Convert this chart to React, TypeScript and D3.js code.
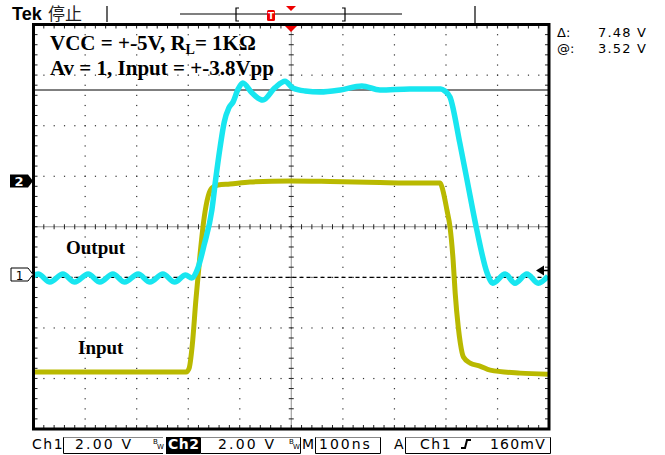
import React from 'react';
import * as d3 from 'd3';

// Ch1 (Output, cyan) : time in ns, volts
const ch1Time = [-500, -491, -468, -443, -420, -394, -371, -346, -323, -297, -274, -249, -226, -205, -193, -181, -169, -154, -146, -138, -130, -121, -113, -103, -94, -76, -55, -32, -12, 3, 27, 56, 95, 137, 172, 230, 290, 298, 308, 327, 341, 360, 380, 391, 415, 434, 457, 479, 498];
const ch1Volts = [-3.66, -3.58, -3.9, -3.58, -3.9, -3.58, -3.9, -3.58, -3.9, -3.58, -3.9, -3.58, -3.9, -3.62, -3.74, -3.34, -2.43, -1.05, 0.26, 1.44, 2.43, 2.99, 3.22, 3.74, 3.98, 3.58, 3.3, 3.78, 4.05, 3.78, 3.66, 3.62, 3.7, 3.86, 3.7, 3.74, 3.74, 3.66, 3.42, 1.6, 0.14, -1.84, -3.54, -3.94, -3.58, -3.94, -3.58, -3.94, -3.66];

// Ch2 (Input, yellow)
const ch2Time = [-500, -371, -204, -198, -192, -185, -177, -169, -161, -154, -142, -119, -80, -2, 75, 172, 250, 289, 294, 302, 308, 314, 318, 324, 328, 334, 347, 366, 386, 444, 498];
const ch2Volts = [-3.75, -3.75, -3.75, -3.59, -2.68, -0.9, 0.88, 2.35, 3.22, 3.53, 3.65, 3.69, 3.77, 3.81, 3.79, 3.75, 3.73, 3.73, 3.45, 2.66, 1.99, 0.68, -0.62, -1.97, -2.6, -3.15, -3.39, -3.51, -3.67, -3.79, -3.83];

const titleLines = ['VCC = +-5V, R', 'Av = 1, Input = +-3.8Vpp'];
const traceLabels = ['Output', 'Input'];
const cursorLabels = ['Δ:', '@:'];
const cursorValues = ['7.48 V', '3.52 V'];
const scaleLabels = ['2.00 V', '2.00 V', '100ns', '160mV'];

const X0 = 33.5, X1 = 549, Y0 = 24.5, Y1 = 429;
const CH1_OFFSET = 0.855; // divisions
const CH2_OFFSET = -1;
const VOLTS_PER_DIV = 2;

export default function App() {
  const x = d3.scaleLinear().domain([-500, 500]).range([X0, X1]);
  const yDiv = d3.scaleLinear().domain([-4, 4]).range([Y1, Y0]);
  const dx = (X1 - X0) / 10;
  const dy = (Y1 - Y0) / 8;

  const line1 = d3.line<number>()
    .x((_, i) => x(ch1Time[i]))
    .y((v) => yDiv(v / VOLTS_PER_DIV + CH1_OFFSET))
    .curve(d3.curveMonotoneX);
  const line2 = d3.line<number>()
    .x((_, i) => x(ch2Time[i]))
    .y((v) => yDiv(v / VOLTS_PER_DIV + CH2_OFFSET))
    .curve(d3.curveMonotoneX);

  const grid: React.ReactNode[] = [];
  for (let k = 1; k < 10; k++) {
    const gx = X0 + k * dx;
    if (k === 5) {
      grid.push(<line key={'cv'} x1={gx} x2={gx} y1={Y0} y2={Y1} stroke="#222" strokeWidth={1} strokeDasharray="1,1" />);
      for (let j = 1; j < 40; j++) {
        const gy = Y0 + j * dy / 5;
        grid.push(<line key={'cvt' + j} x1={gx - 2.5} x2={gx + 2.5} y1={gy} y2={gy} stroke="#222" strokeWidth={1} />);
      }
    } else {
      for (let j = 1; j < 40; j++) {
        const gy = Y0 + j * dy / 5;
        grid.push(<rect key={'v' + k + '_' + j} x={gx - 0.5} y={gy - 0.5} width={1.2} height={1.2} fill="#333" />);
      }
    }
  }
  for (let k = 1; k < 8; k++) {
    const gy = Y0 + k * dy;
    if (k === 4) {
      grid.push(<line key={'ch'} x1={X0} x2={X1} y1={gy} y2={gy} stroke="#222" strokeWidth={1} strokeDasharray="1,1" />);
      for (let j = 1; j < 50; j++) {
        const gx = X0 + j * dx / 5;
        grid.push(<line key={'cht' + j} x1={gx} x2={gx} y1={gy - 2.5} y2={gy + 2.5} stroke="#222" strokeWidth={1} />);
      }
    } else {
      for (let j = 1; j < 50; j++) {
        const gx = X0 + j * dx / 5;
        grid.push(<rect key={'h' + k + '_' + j} x={gx - 0.5} y={gy - 0.5} width={1.2} height={1.2} fill="#333" />);
      }
    }
  }
  for (let j = 1; j < 50; j++) {
    const gx = X0 + j * dx / 5;
    grid.push(<line key={'bt' + j} x1={gx} x2={gx} y1={Y0} y2={Y0 + 4} stroke="#222" strokeWidth={1} />);
    grid.push(<line key={'bb' + j} x1={gx} x2={gx} y1={Y1 - 4} y2={Y1} stroke="#222" strokeWidth={1} />);
  }
  for (let j = 1; j < 40; j++) {
    const gy = Y0 + j * dy / 5;
    grid.push(<line key={'bl' + j} x1={X0} x2={X0 + 4} y1={gy} y2={gy} stroke="#222" strokeWidth={1} />);
    grid.push(<line key={'br' + j} x1={X1 - 4} x2={X1} y1={gy} y2={gy} stroke="#222" strokeWidth={1} />);
  }

  const ch1Ground = yDiv(-1);
  const sans = "'DejaVu Sans', sans-serif";
  const serif = "'Liberation Serif', 'Times New Roman', serif";
  const barY = 449;

  return (
    <div style={{ position: 'fixed', left: 0, top: 0, width: 665, height: 455, background: '#fff' }}>
      <svg width={665} height={455} style={{ display: 'block' }}>
        <rect x={0} y={0} width={665} height={455} fill="#fff" />
        {/* header */}
        <text x={12} y={20} fontFamily="'Liberation Sans', Arial, sans-serif" fontWeight="bold" fontSize={18} fill="#000">Tek</text>
        <text x={48} y={20} fontFamily="'Noto Sans CJK SC', sans-serif" fontSize={17} fill="#222">停止</text>
        <line x1={107} x2={107} y1={6} y2={22} stroke="#000" strokeWidth={1.2} />
        <line x1={180} x2={402} y1={14} y2={14} stroke="#000" strokeWidth={1.2} />
        <path d="M239,8 L236,8 L236,21 L239,21" fill="none" stroke="#000" strokeWidth={1.2} />
        <path d="M342,8 L345,8 L345,21 L342,21" fill="none" stroke="#000" strokeWidth={1.2} />
        <rect x={267} y={10} width={8} height={11} rx={1.5} fill="#e00" />
        <text x={271} y={19} textAnchor="middle" fontFamily={sans} fontWeight="bold" fontSize={9} fill="#fff">T</text>
        <path d="M286,6 L296,6 L291,11 Z" fill="#e00" />
        <line x1={475} x2={475} y1={6} y2={24} stroke="#000" strokeWidth={1.2} />

        {/* grid */}
        {grid}
        <line x1={X0} x2={X1} y1={90} y2={90} stroke="#000" strokeWidth={1} />
        <line x1={X0} x2={X1} y1={ch1Ground} y2={ch1Ground} stroke="#000" strokeWidth={1.2} strokeDasharray="4,3" />

        {/* traces */}
        <path d={line2(ch2Volts) || ''} fill="none" stroke="#B9B900" strokeWidth={5} strokeLinejoin="round" />
        <path d={line1(ch1Volts) || ''} fill="none" stroke="#18E6F0" strokeWidth={5.5} strokeLinejoin="round" />

        {/* border */}
        <rect x={X0} y={Y0} width={X1 - X0} height={Y1 - Y0} fill="none" stroke="#000" strokeWidth={3} />
        <path d="M285,26 L297,26 L291,32 Z" fill="#e00" />

        {/* annotations */}
        <text x={50} y={50} fontFamily={serif} fontWeight="bold" fontSize={21} fill="#000">
          {titleLines[0]}<tspan fontSize={14} dy={4}>L</tspan><tspan dy={-4}>= 1KΩ</tspan>
        </text>
        <text x={50} y={75} fontFamily={serif} fontWeight="bold" fontSize={21} fill="#000">{titleLines[1]}</text>
        <text x={66} y={254} fontFamily={serif} fontWeight="bold" fontSize={19} fill="#000">{traceLabels[0]}</text>
        <text x={78} y={354} fontFamily={serif} fontWeight="bold" fontSize={19} fill="#000">{traceLabels[1]}</text>

        {/* channel markers */}
        <path d={`M10,174.5 L28,174.5 L33,181 L28,187.5 L10,187.5 Z`} fill="#000" />
        <text x={19} y={186} textAnchor="middle" fontFamily={sans} fontWeight="bold" fontSize={13} fill="#fff">2</text>
        <path d={`M11,268 L28,268 L33,274.5 L28,281 L11,281 Z`} fill="#fff" stroke="#000" strokeWidth={1} />
        <text x={19.5} y={279.5} textAnchor="middle" fontFamily={sans} fontSize={12} fill="#000">1</text>
        <path d="M536,270.5 L544,265.5 L544,275.5 Z" fill="#000" />
        <line x1={543} x2={549} y1={270.5} y2={270.5} stroke="#000" strokeWidth={1.5} />

        {/* cursor readout */}
        <text x={557} y={37} fontFamily={sans} fontSize={13} fill="#000">{cursorLabels[0]}</text>
        <text x={598} y={37} fontFamily={sans} fontSize={13} letterSpacing={1.2} fill="#000">{cursorValues[0]}</text>
        <text x={557} y={53} fontFamily={sans} fontSize={13} fill="#000">{cursorLabels[1]}</text>
        <text x={598} y={53} fontFamily={sans} fontSize={13} letterSpacing={1.2} fill="#000">{cursorValues[1]}</text>

        {/* bottom bar */}
        <text x={32} y={barY} fontFamily={sans} fontSize={14} letterSpacing={1.5} fill="#000">Ch1</text>
        <path d="M63.5,437 L63.5,453.5 L163,453.5" fill="none" stroke="#000" strokeWidth={1} />
        <line x1={63.5} x2={163} y1={437.5} y2={437.5} stroke="#888" strokeWidth={1} />
        <text x={75} y={barY} fontFamily={sans} fontSize={14} letterSpacing={2.2} fill="#000">{scaleLabels[0]}</text>
        <text x={153} y={444} fontFamily={sans} fontSize={7} fill="#000">B</text>
        <text x={157} y={449} fontFamily={sans} fontSize={7} fill="#000">W</text>
        <rect x={166} y={437} width={34} height={17} fill="#000" />
        <text x={168} y={barY} fontFamily={sans} fontWeight="bold" fontSize={14} letterSpacing={0.5} fill="#fff">Ch2</text>
        <path d="M200.5,437 L200.5,453.5 L300.5,453.5 L300.5,437" fill="none" stroke="#000" strokeWidth={1} />
        <line x1={200.5} x2={300.5} y1={437.5} y2={437.5} stroke="#888" strokeWidth={1} />
        <text x={218} y={barY} fontFamily={sans} fontSize={14} letterSpacing={2.2} fill="#000">{scaleLabels[1]}</text>
        <text x={289} y={444} fontFamily={sans} fontSize={7} fill="#000">B</text>
        <text x={293} y={449} fontFamily={sans} fontSize={7} fill="#000">W</text>
        <text x={302} y={barY} fontFamily={sans} fontSize={14} fill="#000">M</text>
        <path d="M315.5,437 L315.5,453.5 L380.5,453.5 L380.5,437" fill="none" stroke="#000" strokeWidth={1} />
        <line x1={315.5} x2={380.5} y1={437.5} y2={437.5} stroke="#888" strokeWidth={1} />
        <text x={319} y={barY} fontFamily={sans} fontSize={14} letterSpacing={2} fill="#000">{scaleLabels[2]}</text>
        <text x={394} y={barY} fontFamily={sans} fontSize={14} fill="#000">A</text>
        <path d="M405.5,437 L405.5,453.5 L550.5,453.5 L550.5,437" fill="none" stroke="#000" strokeWidth={1} />
        <line x1={405.5} x2={550.5} y1={437.5} y2={437.5} stroke="#888" strokeWidth={1} />
        <text x={420} y={barY} fontFamily={sans} fontSize={14} letterSpacing={1.5} fill="#000">Ch1</text>
        <path d="M461,448 L465,448 L467,440 L471,440" fill="none" stroke="#000" strokeWidth={2} />
        <text x={490} y={barY} fontFamily={sans} fontSize={14} letterSpacing={1.2} fill="#000">{scaleLabels[3]}</text>
      </svg>
    </div>
  );
}
